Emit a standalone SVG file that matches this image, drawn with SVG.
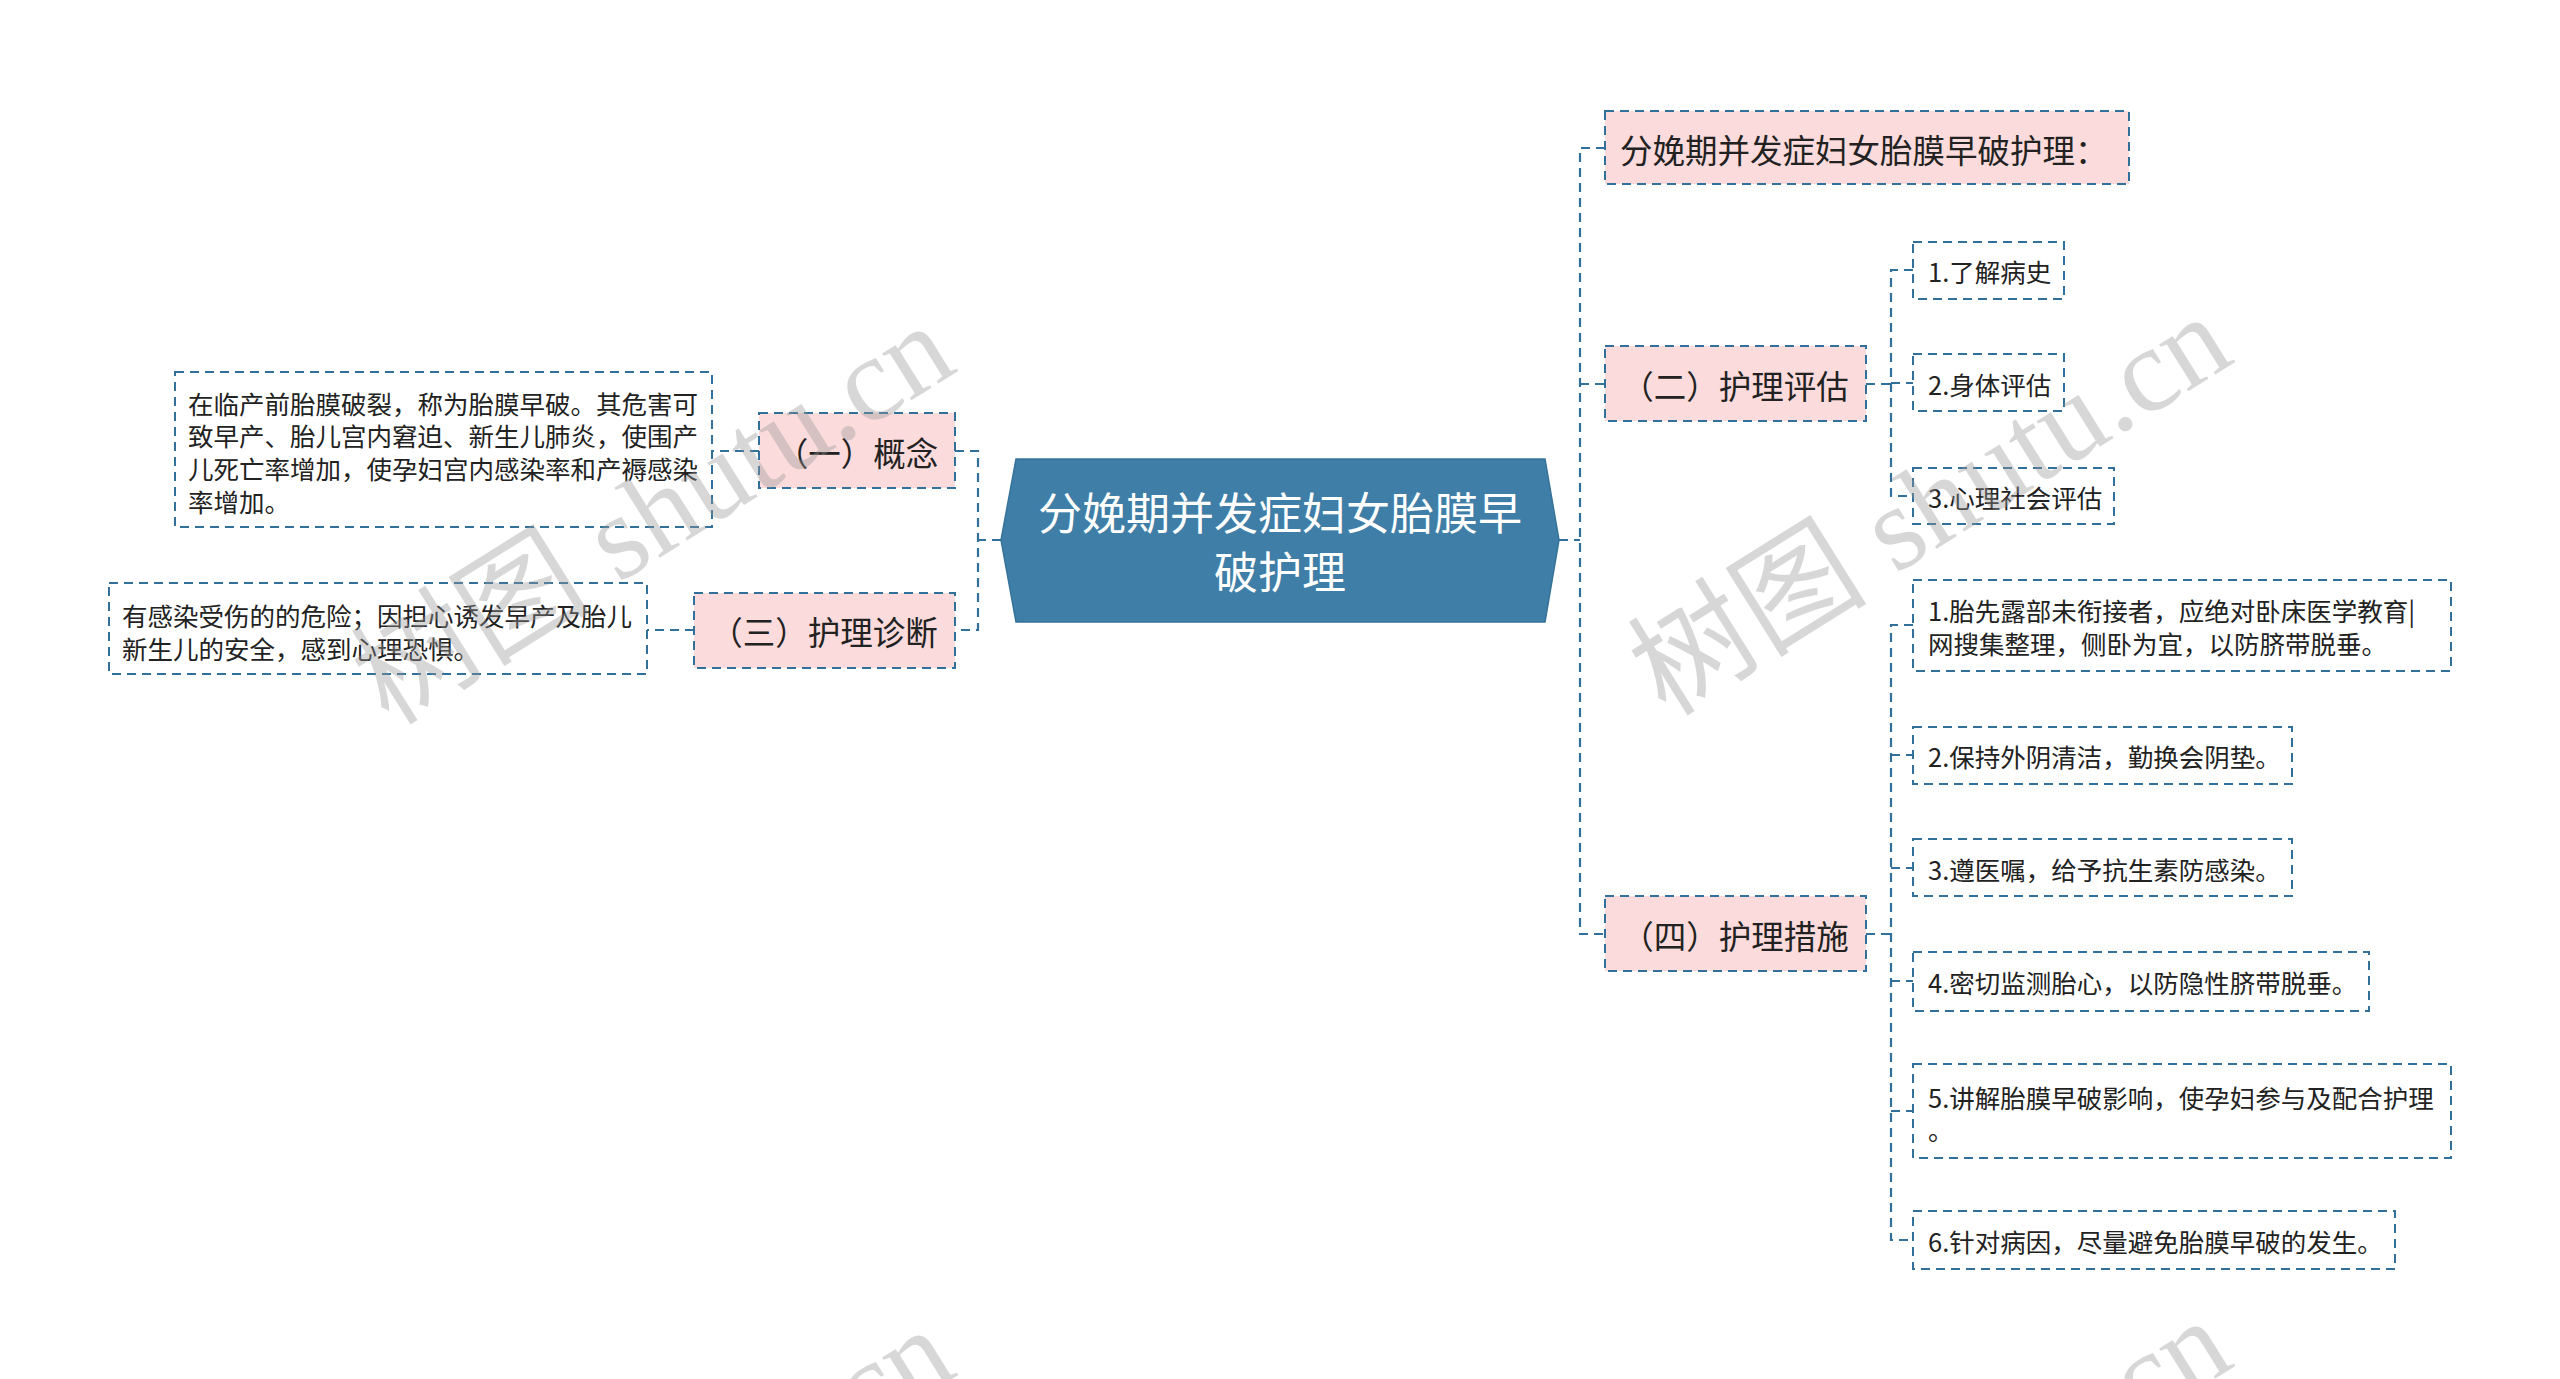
<svg xmlns="http://www.w3.org/2000/svg" width="2560" height="1379" viewBox="0 0 2560 1379">
<style>
.cn{font-family:"Noto Sans CJK SC","Noto Sans",sans-serif;fill:#222;}
.box{fill:#fff;stroke:#31709a;stroke-width:2;stroke-dasharray:9 6;}
.pink{fill:#fbdbdb;stroke:#31709a;stroke-width:2;stroke-dasharray:9 6;}
.l1{font-size:32.5px;}
.l2{font-size:25.5px;}
.conn path{fill:none;stroke:#31709a;stroke-width:2.2;stroke-dasharray:9 6;}
.wm{font-family:"Liberation Serif","Noto Sans CJK SC",serif;font-size:120px;fill:#999;opacity:0.38;}
</style>
<rect width="2560" height="1379" fill="#fff"/>
<g id="connectors" class="conn">
<path d="M1001 540 H978"/>
<path d="M955 451 H978 V630 H955"/>
<path d="M759 451 H712"/>
<path d="M694 630 H647"/>
<path d="M1559 540 H1580"/>
<path d="M1605 148 H1580 V934 H1605"/>
<path d="M1580 384 H1605"/>
<path d="M1866 384 H1891"/>
<path d="M1913 270 H1891 V496 H1913"/>
<path d="M1891 383 H1913"/>
<path d="M1866 934 H1891"/>
<path d="M1913 625 H1891 V1240 H1913"/>
<path d="M1891 755 H1913"/>
<path d="M1891 868 H1913"/>
<path d="M1891 981 H1913"/>
<path d="M1891 1111 H1913"/>
</g>
<g id="root">
<polygon points="1016,459 1545,459 1559,540 1545,622 1016,622 1001,540" fill="#3f7ea7" stroke="#36739b" stroke-width="1.5"/>
<text x="1280" y="511" text-anchor="middle" dominant-baseline="central" font-family="'Noto Sans CJK SC',sans-serif" font-size="44" fill="#fff">分娩期并发症妇女胎膜早</text>
<text x="1280" y="570" text-anchor="middle" dominant-baseline="central" font-family="'Noto Sans CJK SC',sans-serif" font-size="44" fill="#fff">破护理</text>
</g>
<g id="n1">
<rect class="pink" x="759" y="413" width="196" height="75"/>
<text class="cn l1" x="857" y="451" text-anchor="middle" dominant-baseline="central">（一）概念</text>
</g>
<g id="n1a">
<rect class="box" x="175" y="372" width="537" height="155"/>
<text class="cn l2" x="188" y="402" dominant-baseline="central">在临产前胎膜破裂，称为胎膜早破。其危害可</text>
<text class="cn l2" x="188" y="434" dominant-baseline="central">致早产、胎儿宫内窘迫、新生儿肺炎，使围产</text>
<text class="cn l2" x="188" y="467" dominant-baseline="central">儿死亡率增加，使孕妇宫内感染率和产褥感染</text>
<text class="cn l2" x="188" y="500" dominant-baseline="central">率增加。</text>
</g>
<g id="n3">
<rect class="pink" x="694" y="593" width="261" height="75"/>
<text class="cn l1" x="824" y="630" text-anchor="middle" dominant-baseline="central">（三）护理诊断</text>
</g>
<g id="n3a">
<rect class="box" x="109" y="583" width="538" height="91"/>
<text class="cn l2" x="122" y="614" dominant-baseline="central">有感染受伤的的危险；因担心诱发早产及胎儿</text>
<text class="cn l2" x="122" y="647" dominant-baseline="central">新生儿的安全，感到心理恐惧。</text>
</g>
<g id="n0">
<rect class="pink" x="1605" y="111" width="524" height="73"/>
<text class="cn l1" x="1620" y="148" dominant-baseline="central">分娩期并发症妇女胎膜早破护理：</text>
</g>
<g id="n2">
<rect class="pink" x="1605" y="346" width="261" height="75"/>
<text class="cn l1" x="1735" y="384" text-anchor="middle" dominant-baseline="central">（二）护理评估</text>
</g>
<g id="n2a">
<rect class="box" x="1913" y="242" width="151" height="57"/>
<text class="cn l2" x="1928" y="270" dominant-baseline="central">1.了解病史</text>
</g>
<g id="n2b">
<rect class="box" x="1913" y="354" width="151" height="57"/>
<text class="cn l2" x="1928" y="383" dominant-baseline="central">2.身体评估</text>
</g>
<g id="n2c">
<rect class="box" x="1913" y="468" width="201" height="56"/>
<text class="cn l2" x="1928" y="496" dominant-baseline="central">3.心理社会评估</text>
</g>
<g id="n4">
<rect class="pink" x="1605" y="896" width="261" height="75"/>
<text class="cn l1" x="1735" y="934" text-anchor="middle" dominant-baseline="central">（四）护理措施</text>
</g>
<g id="n4a">
<rect class="box" x="1913" y="580" width="538" height="91"/>
<text class="cn l2" x="1928" y="609" dominant-baseline="central">1.胎先露部未衔接者，应绝对卧床医学教育|</text>
<text class="cn l2" x="1928" y="642" dominant-baseline="central">网搜集整理，侧卧为宜，以防脐带脱垂。</text>
</g>
<g id="n4b">
<rect class="box" x="1913" y="727" width="379" height="57"/>
<text class="cn l2" x="1928" y="755" dominant-baseline="central">2.保持外阴清洁，勤换会阴垫。</text>
</g>
<g id="n4c">
<rect class="box" x="1913" y="839" width="379" height="57"/>
<text class="cn l2" x="1928" y="868" dominant-baseline="central">3.遵医嘱，给予抗生素防感染。</text>
</g>
<g id="n4d">
<rect class="box" x="1913" y="952" width="456" height="59"/>
<text class="cn l2" x="1928" y="981" dominant-baseline="central">4.密切监测胎心，以防隐性脐带脱垂。</text>
</g>
<g id="n4e">
<rect class="box" x="1913" y="1064" width="538" height="94"/>
<text class="cn l2" x="1928" y="1096" dominant-baseline="central">5.讲解胎膜早破影响，使孕妇参与及配合护理</text>
<text class="cn l2" x="1928" y="1128" dominant-baseline="central">。</text>
</g>
<g id="n4f">
<rect class="box" x="1913" y="1211" width="482" height="58"/>
<text class="cn l2" x="1928" y="1240" dominant-baseline="central">6.针对病因，尽量避免胎膜早破的发生。</text>
</g>
<g id="watermarks">
<text class="wm" transform="translate(653,514) rotate(-32)" text-anchor="middle" dominant-baseline="central">树图 shutu.cn</text>
<text class="wm" transform="translate(1930,505) rotate(-32)" text-anchor="middle" dominant-baseline="central">树图 shutu.cn</text>
<text class="wm" transform="translate(653,1518) rotate(-32)" text-anchor="middle" dominant-baseline="central">树图 shutu.cn</text>
<text class="wm" transform="translate(1930,1509) rotate(-32)" text-anchor="middle" dominant-baseline="central">树图 shutu.cn</text>
</g>
</svg>
